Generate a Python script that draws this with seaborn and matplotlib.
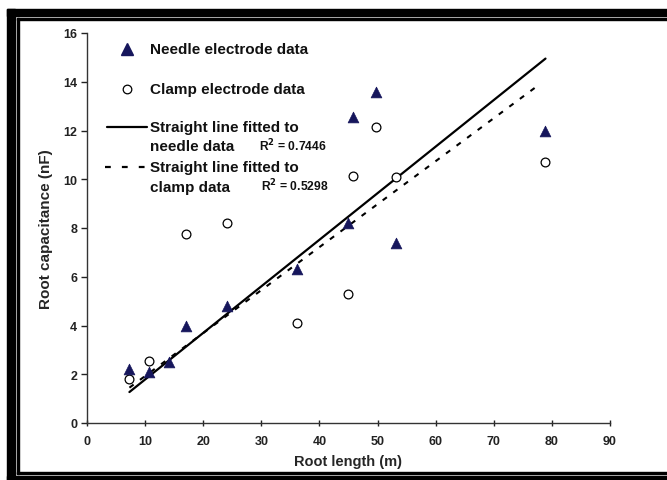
import numpy as np
import pandas as pd
import matplotlib
matplotlib.use("Agg")
import matplotlib.pyplot as plt
from matplotlib.patches import Rectangle
from matplotlib.lines import Line2D
import seaborn as sns

sns.set_style("white")
plt.rcParams['font.family'] = ['Liberation Sans', 'DejaVu Sans']

# Needle electrode data
needle_x = [7.3, 10.6, 14.1, 17.1, 24.1, 36.1, 44.9, 45.8, 49.8, 53.2, 78.9]
needle_y = [2.2, 2.1, 2.5, 4.0, 4.8, 6.3, 8.2, 12.55, 13.6, 7.37, 12.0]

# Clamp electrode data
clamp_x = [7.3, 10.6, 17.1, 24.1, 36.1, 44.9, 45.8, 49.8, 53.2, 78.9]
clamp_y = [1.8, 2.55, 7.74, 8.22, 4.12, 5.29, 10.12, 12.15, 10.1, 10.71]

# Fitted straight lines (end points)
needle_fit_x = [7.3, 78.9]
needle_fit_y = [1.27, 14.95]
clamp_fit_x = [7.3, 77.8]
clamp_fit_y = [1.45, 13.88]

x_ticks = list(range(0, 100, 10))
y_ticks = list(range(0, 18, 2))

needle = pd.DataFrame({'x': needle_x, 'y': needle_y})
clamp = pd.DataFrame({'x': clamp_x, 'y': clamp_y})
needle_fit = pd.DataFrame({'x': needle_fit_x, 'y': needle_fit_y})
clamp_fit = pd.DataFrame({'x': clamp_fit_x, 'y': clamp_fit_y})

W, H = 667, 481
fig = plt.figure(figsize=(W / 100, H / 100), dpi=100)

# axes box in pixels: left 87, right 610, top 34, bottom 424
L, R, T, B = 87, 610, 34, 424
ax = fig.add_axes([L / W, 1 - B / H, (R - L) / W, (B - T) / H])

navy = '#16165c'

# fitted lines
sns.lineplot(data=needle_fit, x='x', y='y', ax=ax, color='black', lw=1.6,
             estimator=None, sort=False)
sns.lineplot(data=clamp_fit, x='x', y='y', ax=ax, color='black', lw=1.5,
             estimator=None, sort=False, dashes=False)
ax.lines[-1].set_dashes((2.5, 3.8))

# data points
sns.scatterplot(data=clamp, x='x', y='y', ax=ax, marker='o', s=40,
                facecolor='white', edgecolor='black', linewidth=0.9, zorder=3)
sns.scatterplot(data=needle, x='x', y='y', ax=ax, marker='^', s=60,
                color=navy, edgecolor=navy, linewidth=0.5, zorder=4)

ax.set_xlim(0, 90)
ax.set_ylim(0, 16)
ax.set_xticks(x_ticks)
ax.set_yticks(y_ticks)
ax.tick_params(axis='x', direction='inout', length=5, width=1, pad=6,
               labelsize=9, colors='#222222', bottom=True)
ax.tick_params(axis='y', direction='out', length=4, width=1, pad=3,
               labelsize=9, colors='#222222', left=True)
for lab in ax.get_xticklabels() + ax.get_yticklabels():
    lab.set_fontweight('bold')
for s in ['top', 'right']:
    ax.spines[s].set_visible(False)
for s in ['left', 'bottom']:
    ax.spines[s].set_color('#333333')
    ax.spines[s].set_linewidth(1.0)

ax.set_xlabel('Root length (m)', fontsize=10.5, fontweight='bold', labelpad=5)
ax.set_ylabel('Root capacitance (nF)', fontsize=11, fontweight='bold', labelpad=7)
if ax.get_legend():
    ax.get_legend().remove()


# manual legend, positions given in pixels
def af(px, py):
    return ((px - L) / (R - L), (B - py) / (B - T))


tx = 150
ax.add_line(Line2D([af(127, 0)[0]], [af(0, 50)[1]], marker='^', ms=8,
                   color=navy, transform=ax.transAxes, clip_on=False))
ax.add_line(Line2D([af(127, 0)[0]], [af(0, 90)[1]], marker='o', ms=6.2,
                   mfc='white', mec='black', mew=0.9, transform=ax.transAxes,
                   clip_on=False))
ax.add_line(Line2D([af(107, 0)[0], af(147, 0)[0]], [af(0, 128)[1]] * 2,
                   color='black', lw=1.6, transform=ax.transAxes, clip_on=False))
ax.add_line(Line2D([af(105, 0)[0], af(148, 0)[0]], [af(0, 168)[1]] * 2,
                   color='black', lw=1.6, dashes=(2.6, 5.0),
                   transform=ax.transAxes, clip_on=False))

leg_texts = [('Needle electrode data', 50), ('Clamp electrode data', 90),
             ('Straight line fitted to', 128), ('needle data', 147),
             ('Straight line fitted to', 168), ('clamp data', 188)]
for t, py in leg_texts:
    x0, y0 = af(tx, py)
    ax.text(x0, y0, t, transform=ax.transAxes, fontsize=11, fontweight='bold',
            va='center', ha='left', color='#111111')

for t, px, py in [('R$^\\mathbf{2}$ = 0.7446', 259, 146),
                  ('R$^\\mathbf{2}$ = 0.5298', 261, 186)]:
    x0, y0 = af(px, py)
    ax.text(x0, y0, t, transform=ax.transAxes, fontsize=8.7, fontweight='bold',
            va='center', ha='left', color='#111111')

# picture frame
def rect(x0, y0, x1, y1):
    fig.patches.append(Rectangle((x0 / W, 1 - y1 / H), (x1 - x0) / W,
                                 (y1 - y0) / H, transform=fig.transFigure,
                                 color='black', zorder=10))

rect(7, 10, W, 17)
rect(7, 10, 15, H)
rect(7, 477, W, H)
rect(17, 19, W, 21)
rect(17, 19, 19, 475)
rect(17, 473, W, 475)

fig.savefig('out.png', dpi=100)
